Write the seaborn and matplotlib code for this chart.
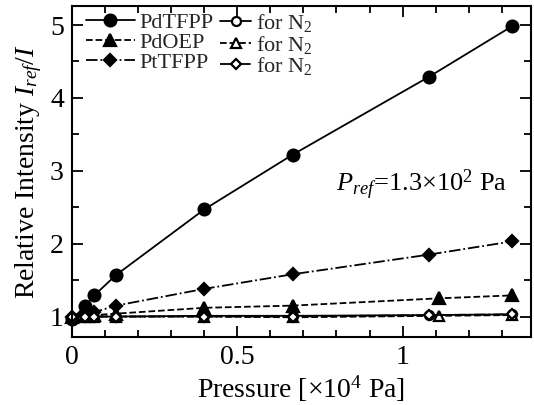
import numpy as np
import pandas as pd
import matplotlib
matplotlib.use("Agg")
import matplotlib.pyplot as plt
import seaborn as sns
from matplotlib.ticker import MultipleLocator

# ---- data ----
p_tfpp = [0.0, 0.04, 0.067, 0.133, 0.4, 0.667, 1.08, 1.33]
pdtfpp = [0.96, 1.15, 1.29, 1.57, 2.47, 3.22, 4.29, 4.98]
pdtfpp_n2 = [1.0, 1.0, 1.0, 1.0, 1.01, 1.01, 1.02, 1.03]

p_oep = [0.0, 0.04, 0.067, 0.133, 0.4, 0.667, 1.11, 1.33]
pdoep = [1.0, 1.01, 1.02, 1.04, 1.12, 1.15, 1.25, 1.29]
pdoep_n2 = [1.0, 1.0, 1.0, 1.0, 1.0, 0.99, 1.01, 1.02]

p_pt = [0.0, 0.04, 0.067, 0.133, 0.4, 0.667, 1.08, 1.33]
pttfpp = [1.0, 1.03, 1.06, 1.15, 1.38, 1.58, 1.85, 2.03]
pttfpp_n2 = [1.0, 1.0, 1.0, 1.0, 1.0, 1.0, 1.02, 1.03]

sns.set_theme(style="ticks")
plt.rcParams['font.family'] = ['Liberation Serif', 'DejaVu Serif']
plt.rcParams['mathtext.fontset'] = 'custom'
plt.rcParams['mathtext.rm'] = 'Liberation Serif'
plt.rcParams['mathtext.it'] = 'Liberation Serif:italic'

fig = plt.figure(figsize=(5.34, 4.05), dpi=100)
ax = fig.add_axes([0.135, 0.168, 0.859, 0.817])

series = [
    (p_tfpp, pdtfpp, 'o', '-', 'full', 8.5, 'PdTFPP'),
    (p_oep, pdoep, '^', '--', 'full', 8, 'PdOEP'),
    (p_pt, pttfpp, 'D', '-.', 'full', 6, 'PtTFPP'),
    (p_tfpp, pdtfpp_n2, 'o', '-', 'none', 6.5, 'for N$_2$'),
    (p_oep, pdoep_n2, '^', '--', 'none', 6.5, 'for N$_2$'),
    (p_pt, pttfpp_n2, 'D', '-.', 'none', 5, 'for N$_2$'),
]
for xs, ys, m, ls, fill, ms, lab in series:
    df = pd.DataFrame({'x': xs, 'y': ys})
    kw = dict(markerfacecolor='black') if fill == 'full' else dict(markerfacecolor='white')
    sns.lineplot(data=df, x='x', y='y', ax=ax, color='black', marker=m,
                 linestyle=ls, markersize=ms, markeredgecolor='black',
                 markeredgewidth=1.6, linewidth=1.3, label=lab, clip_on=False, **kw)

ax.set_xlim(0, 1.388)
ax.set_ylim(0.72, 5.26)
ax.xaxis.set_major_locator(MultipleLocator(0.5))
ax.xaxis.set_minor_locator(MultipleLocator(0.1))
ax.yaxis.set_major_locator(MultipleLocator(1))
ax.yaxis.set_minor_locator(MultipleLocator(0.5))
ax.set_xticks([0, 0.5, 1])
ax.set_xticklabels(['0', '0.5', '1'])
ax.tick_params(which='both', direction='in', top=True, right=True, width=1.3,
               labelsize=20, pad=6, color='black', labelcolor='black')
ax.tick_params(which='major', length=8)
ax.tick_params(which='minor', length=5)
for s in ax.spines.values():
    s.set_linewidth(1.5)
    s.set_color('black')

ax.set_xlabel('Pressure [×10$^4$ Pa]', fontsize=20, color='black', labelpad=2)
ax.set_ylabel('Relative Intensity $I_{ref}/I$', fontsize=20, color='black', labelpad=4)

ax.text(0.80, 2.72, '$P_{ref}$=1.3×10$^2$ Pa', fontsize=19, color='black', va='baseline')

h, l = ax.get_legend_handles_labels()
leg1 = ax.legend(h[:3], l[:3], loc='upper left', bbox_to_anchor=(86 / 534, 1 - 12 / 405),
                 bbox_transform=fig.transFigure, frameon=False,
                 fontsize=16, labelspacing=-0.02, handlelength=2.2, handletextpad=0.2,
                 borderpad=0, borderaxespad=0)
ax.add_artist(leg1)
ax.legend(h[3:], l[3:], loc='upper left', bbox_to_anchor=(220 / 534, 1 - 12 / 405),
          bbox_transform=fig.transFigure, frameon=False,
          fontsize=16, labelspacing=-0.02, handlelength=1.4, handletextpad=0.2,
          borderpad=0, borderaxespad=0)

fig.savefig('out.png', dpi=100)
